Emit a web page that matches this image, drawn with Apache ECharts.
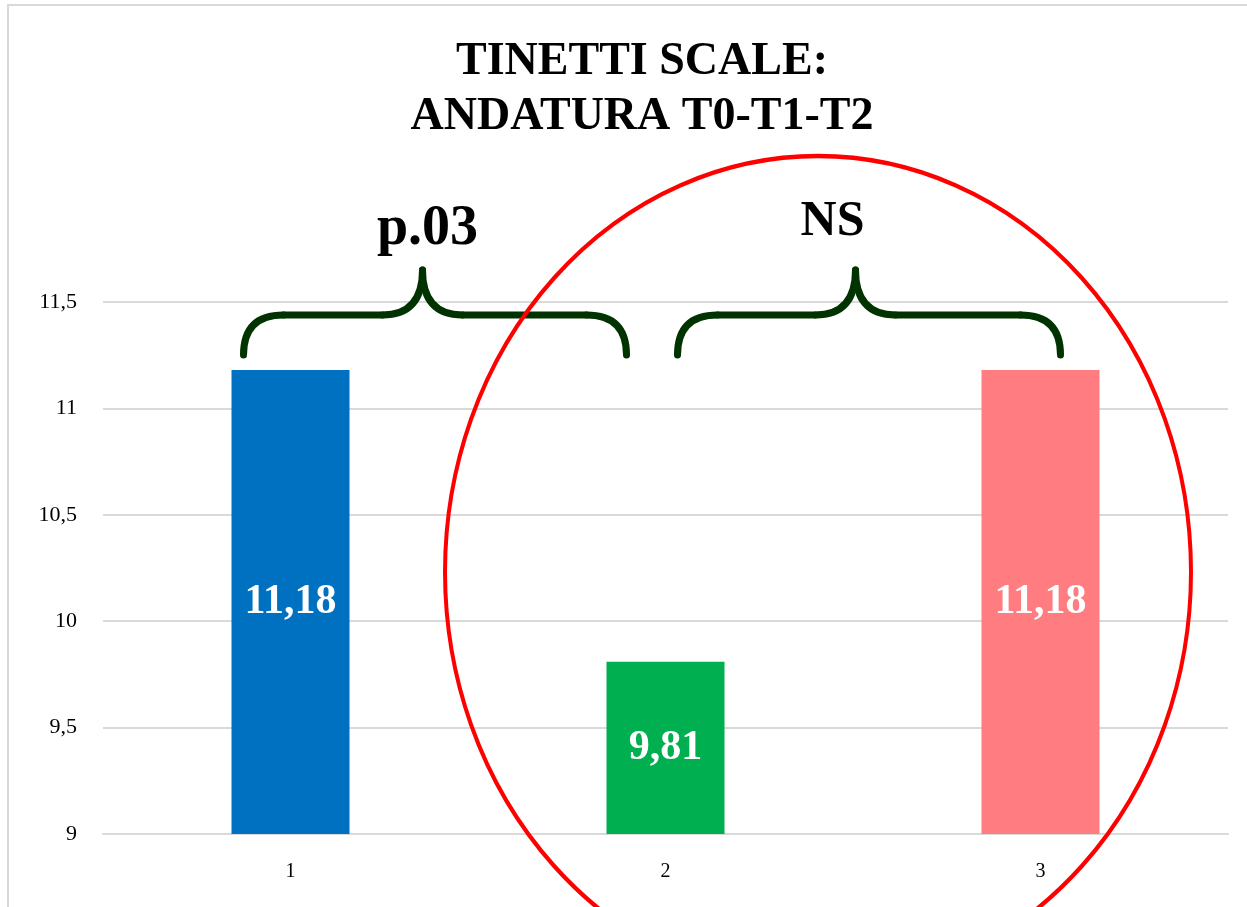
<!DOCTYPE html>
<html>
<head>
<meta charset="utf-8">
<script src="https://cdn.jsdelivr.net/npm/echarts@6/dist/echarts.min.js"></script>
<style>
  html, body { margin: 0; padding: 0; background: #fff; }
  #frame { position: absolute; left: 7px; top: 4px; width: 1250px; height: 920px;
           border: 2px solid #d9d9d9; box-sizing: border-box; }
  #chart { position: absolute; left: 0; top: 0; width: 1247px; height: 907px; }
</style>
</head>
<body>
<div id="frame"></div>
<div id="chart"></div>
<script>
// Tinetti gait scores at T0, T1, T2
const categories = ['1', '2', '3'];
const values = [11.18, 9.81, 11.18];
const barColors = ['#0070C0', '#00B050', '#FF7C80'];
const titleLines = ['TINETTI SCALE:', 'ANDATURA T0-T1-T2'];
const noteLeft = 'p.03';
const noteRight = 'NS';

const serif = '"Liberation Serif", "DejaVu Serif", serif';
const chart = echarts.init(document.getElementById('chart'));

const option = {
  animation: false,
  backgroundColor: 'transparent',
  title: {
    text: titleLines.join('\n'),
    left: 637, top: 30, textAlign: 'center',
    textStyle: { fontFamily: serif, fontWeight: 'bold', fontSize: 46, lineHeight: 55, color: '#000' }
  },
  grid: { left: 103, right: 19, top: 302, bottom: 73 },
  xAxis: {
    type: 'category',
    data: categories,
    axisLine: { show: true, lineStyle: { color: '#d9d9d9', width: 2 } },
    axisTick: { show: false },
    axisLabel: { fontFamily: serif, fontSize: 20, color: '#000', margin: 28 }
  },
  yAxis: {
    type: 'value',
    min: 9, max: 11.5, interval: 0.5,
    axisLine: { show: false },
    axisTick: { show: false },
    splitLine: { lineStyle: { color: '#d9d9d9', width: 2 } },
    axisLabel: {
      fontFamily: serif, fontSize: 22, color: '#000', margin: 26,
      formatter: v => String(v).replace('.', ',')
    }
  },
  series: [{
    type: 'bar',
    barWidth: 118,
    data: values.map((v, i) => ({ value: v, itemStyle: { color: barColors[i] } })),
    label: {
      show: true, position: 'inside',
      fontFamily: serif, fontWeight: 'bold', fontSize: 42, color: '#fff',
      formatter: p => String(p.value).replace('.', ',')
    }
  }]
};
chart.setOption(option);

const braceStyle = { stroke: '#013300', lineWidth: 7, fill: null, lineCap: 'round' };

// Curly brace between x0 and x1 with its tip at xt, built from curves and lines
function brace(x0, x1, xt, yTip, yBar, yEnd, r) {
  const curve = (ax, ay, cx1, cy1, bx, by) => ({
    type: 'bezierCurve', z: 10, style: braceStyle,
    shape: { x1: ax, y1: ay, cpx1: cx1, cpy1: cy1, x2: bx, y2: by }
  });
  const seg = (ax, bx) => ({
    type: 'line', z: 10, style: braceStyle,
    shape: { x1: ax, y1: yBar, x2: bx, y2: yBar }
  });
  return [
    curve(x0, yEnd, x0, yBar, x0 + r, yBar),
    seg(x0 + r, xt - r),
    curve(xt - r, yBar, xt, yBar, xt, yTip),
    curve(xt, yTip, xt, yBar, xt + r, yBar),
    seg(xt + r, x1 - r),
    curve(x1 - r, yBar, x1, yBar, x1, yEnd)
  ];
}

const cx = categories.map((c, i) => chart.convertToPixel({ xAxisIndex: 0 }, i));
const yTop = chart.convertToPixel({ yAxisIndex: 0 }, 11.5);
const yTip = yTop - 32, yBar = yTop + 13, yEnd = yTop + 53;

const ellipseRx = 373, ellipseRy = 416;

chart.setOption({
  graphic: [].concat(
    brace(cx[0] - 47, cx[1] - 39, cx[0] + 132, yTip, yBar, yEnd, 40),
    brace(cx[1] + 12, cx[2] + 20, cx[1] + 190, yTip, yBar, yEnd, 40),
    [
      { type: 'text', x: cx[0] + 137, y: yTop - 72, z: 10,
        style: { text: noteLeft, fontFamily: serif, fontWeight: 'bold', fontSize: 56, fill: '#000', align: 'center', verticalAlign: 'middle' } },
      { type: 'text', x: cx[1] + 167, y: yTop - 80, z: 10,
        style: { text: noteRight, fontFamily: serif, fontWeight: 'bold', fontSize: 50, fill: '#000', align: 'center', verticalAlign: 'middle' } },
      { type: 'circle', z: 11,
        x: (cx[1] + cx[2]) / 2 - 35, y: 572, scaleX: 1, scaleY: ellipseRy / ellipseRx,
        shape: { cx: 0, cy: 0, r: ellipseRx },
        style: { stroke: '#FF0000', lineWidth: 4, fill: null, strokeNoScale: true } }
    ]
  )
});
</script>
</body>
</html>
